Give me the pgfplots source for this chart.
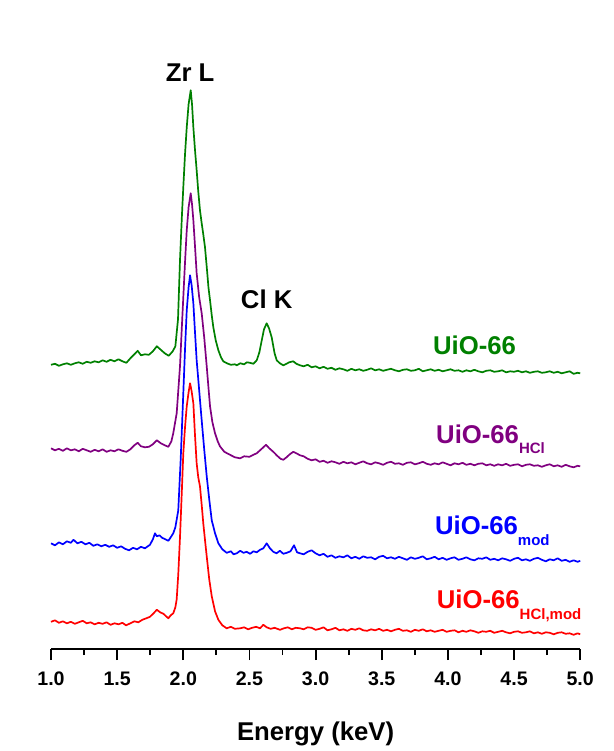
\documentclass[border=0pt]{standalone}
\usepackage{fontspec}
\setmainfont{Liberation Sans}
\usepackage{pgfplots}
\pgfplotsset{compat=1.18}

\definecolor{cgreen}{RGB}{0,128,0}
\definecolor{cpurple}{RGB}{128,0,128}
\definecolor{cblue}{RGB}{0,0,255}
\definecolor{cred}{RGB}{255,0,0}

\newcommand{\lblfont}{\fontsize{25.7}{26}\selectfont\bfseries}
\newcommand{\sub}[1]{{\fontsize{15}{15}\selectfont\bfseries\raisebox{-10.7pt}{#1}}}

\begin{document}
\begin{tikzpicture}
\begin{axis}[
    x=132.3pt, y=1pt,
    xmin=1, xmax=5, ymin=0, ymax=649.3,
    axis x line*=bottom,
    axis y line=none,
    x axis line style={-, line width=1.8pt},
    xtick={1,1.5,...,5},
    minor x tick num=1,
    xtick align=outside,
    major tick length=10.7pt,
    minor tick length=5.7pt,
    every tick/.style={black, line width=1.8pt},
    xticklabel style={font=\fontsize{19.6}{20}\selectfont\bfseries, anchor=north, inner sep=0pt, yshift=-12pt},
    /pgf/number format/.cd, fixed, fixed zerofill, precision=1, assume math mode=true,
    /pgfplots/.cd,
    xlabel={Energy (keV)},
    xlabel style={font=\lblfont, at={(axis description cs:0.5,-0.1397)}, anchor=base},
    clip=false,
    every axis plot/.append style={line width=1.7pt, line join=round, no markers},
]
% bounding box of the whole picture
\path (axis cs:0.6145,-101.7) rectangle (axis cs:5.248,649.3);

% UiO-66
\addplot[cgreen] coordinates {
(1.00,284.5) (1.03,285.5) (1.06,283.5) (1.09,285) (1.12,286) (1.15,284.5) (1.18,286) (1.21,287)
(1.24,285.5) (1.27,287.5) (1.30,286.5) (1.33,288) (1.36,287) (1.39,289) (1.42,287.5) (1.45,289.5)
(1.48,288) (1.51,290) (1.54,288) (1.57,286.5) (1.60,291) (1.63,295) (1.655,298.5) (1.68,294)
(1.71,295) (1.74,294.5) (1.77,298) (1.80,303) (1.83,299.5) (1.86,296) (1.89,293.5) (1.92,298)
(1.94,303) (1.96,330) (1.975,389) (1.99,435) (2.00,462) (2.013,495) (2.026,522) (2.04,545)
(2.056,559) (2.066,545) (2.076,522) (2.088,500) (2.101,479) (2.113,458) (2.126,439) (2.14,425)
(2.151,415) (2.164,402) (2.18,378) (2.19,362) (2.202,349) (2.215,334) (2.227,322) (2.245,309)
(2.265,299) (2.285,292) (2.302,288) (2.33,286) (2.36,284.5) (2.39,285) (2.404,284) (2.43,286)
(2.46,285) (2.48,287) (2.504,286.5) (2.53,285.5) (2.555,289) (2.575,297) (2.593,309) (2.61,320)
(2.63,326) (2.648,321) (2.668,312) (2.69,296) (2.706,289) (2.73,286) (2.756,284) (2.78,285.5)
(2.80,287) (2.831,288) (2.855,285.5) (2.882,284)
(2.91,283) (2.94,284.5) (2.97,282) (3.00,283) (3.03,281) (3.06,282.5) (3.09,280.5) (3.12,281.5)
(3.15,279.5) (3.18,281) (3.21,280) (3.24,278.5) (3.27,280.5) (3.30,279) (3.33,280) (3.36,278.5)
(3.39,279.5) (3.42,281) (3.45,279) (3.48,280) (3.51,278.5) (3.54,279.5) (3.57,280.5) (3.60,279)
(3.63,278) (3.66,279.5) (3.69,280) (3.72,278.5) (3.75,279) (3.78,280.5) (3.81,278) (3.84,279)
(3.87,280) (3.90,278.5) (3.93,279.5) (3.96,278) (3.99,279) (4.02,280) (4.05,278.5) (4.08,279)
(4.11,277.5) (4.14,279) (4.17,278) (4.20,279.5) (4.23,278) (4.26,277) (4.29,278.5) (4.32,279)
(4.35,277.5) (4.38,278) (4.41,279) (4.44,277) (4.47,278) (4.50,277.5) (4.53,278.5) (4.56,277)
(4.59,278) (4.62,276.5) (4.65,277.5) (4.68,278) (4.71,276.5) (4.74,277) (4.77,278) (4.80,276.5)
(4.83,277.5) (4.86,276) (4.89,277) (4.92,278) (4.95,275.5) (4.98,276.5) (5.00,276)
};

% UiO-66 HCl
\addplot[cpurple] coordinates {
(1.00,201) (1.03,199) (1.06,200.5) (1.09,198.5) (1.12,201) (1.15,199) (1.18,200) (1.21,198)
(1.24,200.5) (1.27,199) (1.30,197.5) (1.33,199.5) (1.36,198) (1.39,200) (1.42,197.5) (1.45,199)
(1.48,198) (1.51,200) (1.54,198.5) (1.57,197.5) (1.60,200) (1.63,204) (1.655,206.5) (1.68,203)
(1.71,202) (1.74,202.5) (1.77,205) (1.80,209) (1.83,206) (1.86,204) (1.887,202.5) (1.91,208)
(1.924,216) (1.95,236) (1.975,283) (1.99,325) (2.00,352) (2.013,387) (2.026,419) (2.04,442)
(2.056,456) (2.066,445) (2.076,429) (2.088,404) (2.101,376) (2.12,352) (2.139,336) (2.158,312)
(2.177,283) (2.19,262) (2.202,243) (2.22,227) (2.24,216) (2.26,208) (2.277,203) (2.31,197.5)
(2.353,194.5) (2.39,192) (2.429,191) (2.46,193) (2.50,192.5) (2.529,194.5) (2.555,196) (2.58,199)
(2.605,202) (2.625,204.5) (2.65,201) (2.68,197.5) (2.71,193.5) (2.735,190.5) (2.756,189.5) (2.78,192)
(2.805,195) (2.831,197.5) (2.855,196) (2.882,194)
(2.91,193) (2.94,190.5) (2.97,189) (3.00,190) (3.03,187.5) (3.06,188.5) (3.09,186.5) (3.12,188)
(3.15,187) (3.18,185.5) (3.21,187.5) (3.24,186) (3.27,187) (3.30,185) (3.33,186.5) (3.36,188)
(3.39,186) (3.42,185) (3.45,187) (3.48,186) (3.51,184.5) (3.54,186.5) (3.57,187.5) (3.60,185.5)
(3.63,186) (3.66,184.5) (3.69,186.5) (3.72,187) (3.75,185) (3.78,186) (3.81,187.5) (3.84,185.5)
(3.87,184.5) (3.90,186) (3.93,185) (3.96,187) (3.99,185.5) (4.02,184) (4.05,186) (4.08,185)
(4.11,186.5) (4.14,184.5) (4.17,185.5) (4.20,184) (4.23,185.5) (4.26,186) (4.29,184) (4.32,185)
(4.35,183.5) (4.38,185) (4.41,184) (4.44,185.5) (4.47,183.5) (4.50,184.5) (4.53,185) (4.56,183)
(4.59,184.5) (4.62,185) (4.65,183.5) (4.68,184) (4.71,182.5) (4.74,184) (4.77,185) (4.80,183)
(4.83,184) (4.86,182.5) (4.89,184.5) (4.92,183) (4.95,182) (4.98,183.5) (5.00,183)
};

% UiO-66 mod
\addplot[cblue] coordinates {
(1.00,106) (1.03,104) (1.06,107) (1.09,105) (1.12,108) (1.15,106.5) (1.17,109.5) (1.20,106)
(1.23,107.5) (1.26,105) (1.29,106.5) (1.32,103.5) (1.35,105) (1.38,103) (1.41,104.5) (1.44,102.5)
(1.47,104) (1.50,101.5) (1.53,103) (1.56,100.5) (1.59,99) (1.62,101.5) (1.65,100) (1.68,102.5)
(1.71,101) (1.748,104.5) (1.77,110) (1.786,116) (1.80,113) (1.82,114) (1.84,111.5) (1.865,110)
(1.887,108.5) (1.90,111) (1.924,116) (1.94,122) (1.962,139) (1.98,189) (2.00,256) (2.013,300)
(2.026,339) (2.04,362) (2.051,374) (2.063,364) (2.076,346) (2.088,318) (2.101,289) (2.12,259)
(2.139,229) (2.158,200) (2.177,173) (2.196,150) (2.215,129) (2.24,116) (2.265,106) (2.295,100)
(2.328,96.5) (2.36,98) (2.38,95) (2.404,96) (2.43,98.5) (2.455,96.5) (2.479,97.5) (2.505,95.5)
(2.53,98) (2.555,97) (2.58,99.5) (2.605,101) (2.63,106) (2.655,101) (2.68,97.5) (2.705,96)
(2.73,98.5) (2.756,95.5) (2.782,96.5) (2.81,98) (2.837,104) (2.86,97) (2.882,96)
(2.91,95) (2.94,97.5) (2.97,99) (3.00,96) (3.03,94) (3.06,95.5) (3.09,92.5) (3.12,94)
(3.15,91.5) (3.18,93) (3.21,92) (3.24,94) (3.27,91) (3.30,92.5) (3.33,90.5) (3.36,93)
(3.39,91.5) (3.42,92) (3.45,90) (3.48,92.5) (3.51,93.5) (3.54,91) (3.57,92) (3.60,90.5)
(3.63,92.5) (3.66,91) (3.69,89.5) (3.72,92) (3.75,90.5) (3.78,91.5) (3.81,93) (3.84,90)
(3.87,91) (3.90,92.5) (3.93,90) (3.96,91.5) (3.99,89.5) (4.02,91) (4.05,92) (4.08,89.5)
(4.11,90.5) (4.14,92) (4.17,90) (4.20,89) (4.23,91) (4.26,90.5) (4.29,92) (4.32,89.5)
(4.35,90.5) (4.38,89) (4.41,91) (4.44,90) (4.47,88.5) (4.50,90.5) (4.53,91.5) (4.56,89)
(4.59,90) (4.62,88.5) (4.65,90.5) (4.68,91.5) (4.71,89.5) (4.74,88) (4.77,90) (4.80,89)
(4.83,91) (4.86,88.5) (4.89,89.5) (4.92,87.5) (4.95,89) (4.98,87.5) (5.00,88.5)
};

% UiO-66 HCl,mod
\addplot[cred] coordinates {
(1.00,27.5) (1.03,29) (1.06,26.5) (1.09,28) (1.12,26) (1.15,27.5) (1.18,25.5) (1.21,27)
(1.24,28.5) (1.27,26) (1.30,27) (1.33,25) (1.36,26.5) (1.39,25.5) (1.42,27) (1.45,24.5)
(1.48,26) (1.51,25) (1.54,26.5) (1.567,24) (1.60,26) (1.63,28) (1.66,27) (1.69,29.5)
(1.72,31) (1.748,32.5) (1.775,36) (1.80,39.5) (1.825,37) (1.85,35.5) (1.87,33) (1.887,31)
(1.905,34) (1.924,36) (1.94,42) (1.95,50) (1.962,75) (1.975,112) (1.988,155) (2.00,196)
(2.013,222) (2.026,243) (2.04,257) (2.051,266) (2.063,258) (2.076,246) (2.088,215) (2.101,186)
(2.113,172) (2.126,163) (2.14,143) (2.151,126) (2.165,108) (2.177,93) (2.196,70) (2.215,53)
(2.24,38) (2.265,29.5) (2.295,24) (2.328,21) (2.36,22.5) (2.39,20.5) (2.429,21) (2.46,22)
(2.49,20) (2.52,21.5) (2.55,22.5) (2.58,21) (2.605,24.5) (2.63,22) (2.66,20.5) (2.69,21.5)
(2.731,19.5) (2.76,21) (2.79,22) (2.82,20) (2.85,21.5) (2.882,21)
(2.91,20) (2.94,22) (2.97,21.5) (3.00,19.5) (3.03,20.5) (3.06,22) (3.09,19) (3.12,20)
(3.15,21.5) (3.18,19) (3.21,20) (3.24,18.5) (3.27,20.5) (3.30,19.5) (3.33,21) (3.36,19)
(3.39,18.5) (3.42,20) (3.45,19) (3.48,20.5) (3.51,18.5) (3.54,19.5) (3.57,18) (3.60,19.5)
(3.63,20.5) (3.66,18.5) (3.69,19) (3.72,17.5) (3.75,19.5) (3.78,18.5) (3.81,20) (3.84,18)
(3.87,19) (3.90,17.5) (3.93,18.5) (3.96,19.5) (3.99,17.5) (4.02,18.5) (4.05,19) (4.08,17)
(4.11,18.5) (4.14,17.5) (4.17,19) (4.20,18) (4.23,16.5) (4.26,18) (4.29,17.5) (4.32,18.5)
(4.35,16.5) (4.38,17.5) (4.41,18.5) (4.44,17) (4.47,16) (4.50,17.5) (4.53,18) (4.56,16.5)
(4.59,17) (4.62,18) (4.65,16) (4.68,17) (4.71,15.5) (4.74,17) (4.77,16.5) (4.80,15)
(4.83,16.5) (4.86,17) (4.89,15.5) (4.92,16) (4.95,14.5) (4.98,16) (5.00,15)
};

\node[anchor=base, font=\lblfont] at (axis cs:2.052,567.6) {Zr L};
\node[anchor=base, font=\lblfont] at (axis cs:2.630,340.3) {Cl K};
\node[anchor=base west, inner sep=0pt, font=\lblfont, text=cgreen] at (axis cs:3.887,294.3) {UiO-66};
\node[anchor=base west, inner sep=0pt, font=\lblfont, text=cpurple] at (axis cs:3.910,206) {UiO-66\sub{HCl}};
\node[anchor=base west, inner sep=0pt, font=\lblfont, text=cblue] at (axis cs:3.902,114.3) {UiO-66\sub{mod}};
\node[anchor=base west, inner sep=0pt, font=\lblfont, text=cred] at (axis cs:3.915,41) {UiO-66\sub{HCl,mod}};
\end{axis}
\end{tikzpicture}
\end{document}
